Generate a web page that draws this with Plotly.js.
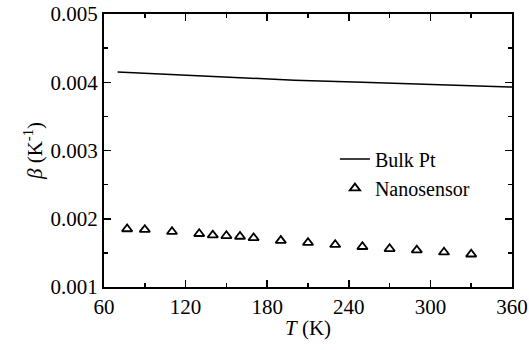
<!DOCTYPE html>
<html><head><meta charset="utf-8">
<script src="https://cdn.plot.ly/plotly-3.0.1.min.js"></script>
<style>
body{margin:0;background:#fff}
#c{width:529px;height:350px}
#c svg text{font-family:'Liberation Serif','Times New Roman',Times,serif !important;}
#c .xtick text,#c .ytick text,#c .xtitle,#c .ytitle{font-size:21px !important;}
#c .legendtext{font-size:20px !important;}
</style>
</head><body><div id="c"></div>
<script>
var bulkT = [70, 100, 150, 200, 250, 300, 360];
var bulkBeta = [0.00415, 0.00412, 0.00407, 0.00403, 0.00400, 0.00397, 0.00393];
var nanoT = [77, 90, 110, 130, 140, 150, 160, 170, 190, 210, 230, 250, 270, 290, 310, 330];
var nanoBeta = [0.00185, 0.00184, 0.00181, 0.00178, 0.00176, 0.00175, 0.00174, 0.00172, 0.00168, 0.00165, 0.00162, 0.00159, 0.00156, 0.00154, 0.00151, 0.00148];
var xTickStep = 60;
var yTickStep = 0.001;

var fontName = 'Liberation Serif, Times New Roman, Times, serif';
var traces = [
  {x: bulkT, y: bulkBeta, mode: 'lines', name: 'Bulk Pt', line: {color: '#000', width: 1.5}},
  {x: nanoT, y: nanoBeta, mode: 'markers', name: 'Nanosensor',
   marker: {symbol: 'triangle-up-open', size: 9, color: '#000', line: {width: 1.8, color: '#000'}}}
];
function axis(extra) {
  var a = {
    showgrid: false, zeroline: false, showline: true, linecolor: '#000', linewidth: 2,
    mirror: 'ticks', ticks: 'inside', ticklen: 7, tickwidth: 1.5, tickcolor: '#000',
    tickfont: {family: fontName, size: 21, color: '#000'}
  };
  for (var k in extra) a[k] = extra[k];
  return a;
}
var layout = {
  width: 529, height: 350,
  margin: {l: 104, r: 17, t: 14, b: 63},
  font: {family: fontName, size: 21, color: '#000'},
  xaxis: axis({
    range: [60, 360], tick0: 60, dtick: xTickStep,
    minor: {dtick: 30, ticks: 'inside', ticklen: 4, tickwidth: 1.5, tickcolor: '#000'},
    title: {text: '<i>T</i> (K)', font: {family: fontName, size: 21, color: '#000'}, standoff: 2}
  }),
  yaxis: axis({
    range: [0.001, 0.005], tick0: 0.001, dtick: yTickStep, tickformat: '.3f',
    minor: {dtick: 0.0005, ticks: 'inside', ticklen: 4, tickwidth: 1.5, tickcolor: '#000'},
    title: {text: '<i>β</i> (K<sup>-1</sup>)', font: {family: fontName, size: 21, color: '#000'}, standoff: 2}
  }),
  legend: {x: 0.566, y: 0.54, xanchor: 'left', yanchor: 'top', bgcolor: 'rgba(0,0,0,0)',
           font: {family: fontName, size: 20, color: '#000'}, tracegroupgap: 0},
  showlegend: true
};
Plotly.newPlot('c', traces, layout, {staticPlot: true});
</script></body></html>
